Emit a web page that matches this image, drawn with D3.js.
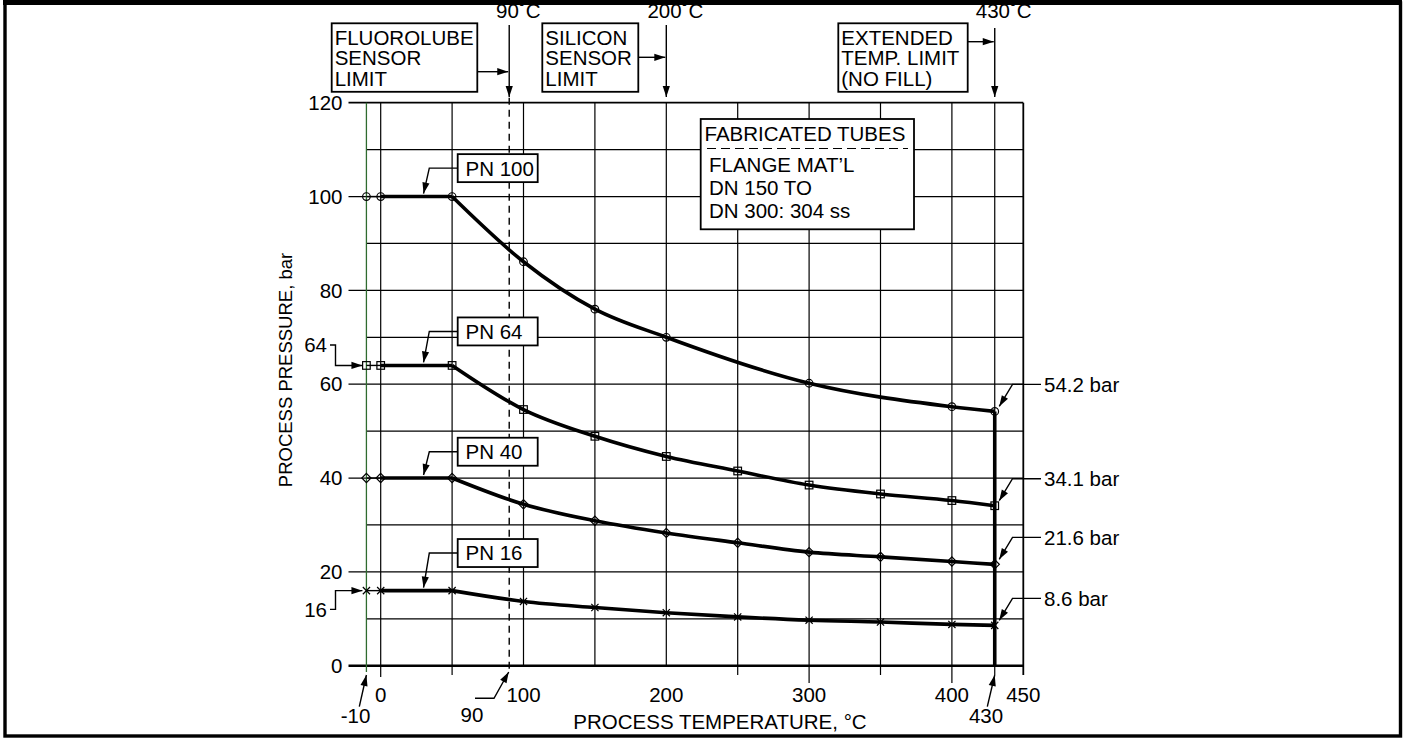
<!DOCTYPE html>
<html><head><meta charset="utf-8">
<script src="https://cdn.jsdelivr.net/npm/d3@7"></script>
<style>
html,body{margin:0;padding:0;background:#fff;}
svg{display:block;}
text{font-family:"Liberation Sans", Arial, Helvetica, sans-serif; fill:#000;}
</style></head><body>
<svg id="chart" width="1409" height="738"></svg>
<script>
// ---------- data ----------
const temps = [-10, 0, 50, 100, 150, 200, 250, 300, 350, 400, 430];
const pn100Temps = [-10, 0, 50, 100, 150, 200, 300, 400, 430];
const pn100Values = [100, 100, 100, 86.1, 76.0, 70.0, 60.2, 55.2, 54.2];
const pn64Values = [64, 64, 64, 54.6, 48.9, 44.6, 41.5, 38.5, 36.6, 35.2, 34.1];
const pn40Values = [40, 40, 40, 34.4, 30.9, 28.3, 26.2, 24.2, 23.2, 22.2, 21.6];
const pn16Values = [16, 16, 16, 13.7, 12.4, 11.3, 10.4, 9.7, 9.3, 8.8, 8.6];
const seriesNames = ["PN 100", "PN 64", "PN 40", "PN 16"];
const markerTypes = ["circle", "square", "diamond", "cross"];
const xTickLabels = [0, 100, 200, 300, 400, 450];
const yTickLabels = [0, 20, 40, 60, 80, 100, 120];
const xGrid = [0, 50, 100, 150, 200, 250, 300, 350, 400, 430, 450];
const yGrid = [0, 10, 20, 30, 40, 50, 60, 70, 80, 90, 100, 110, 120];
const endLabels = ["54.2 bar", "34.1 bar", "21.6 bar", "8.6 bar"];
const endValues = [54.2, 34.1, 21.6, 8.6];
const limitTemps = [90, 200, 430];
const limitLabels = ["90˚C", "200˚C", "430˚C"];
const limitBoxLines = [["FLUOROLUBE", "SENSOR", "LIMIT"], ["SILICON", "SENSOR", "LIMIT"], ["EXTENDED", "TEMP. LIMIT", "(NO FILL)"]];
const noteLines = ["FABRICATED TUBES", "FLANGE MAT’L", "DN 150 TO", "DN 300: 304 ss"];
const sideLabels = ["64", "16"];
const sideValues = [64, 16];
const bottomCallouts = ["-10", "90", "430"];
const bottomCalloutTemps = [-10, 90, 430];
const xTitle = "PROCESS TEMPERATURE, °C";
const yTitle = "PROCESS PRESSURE, bar";

// ---------- setup ----------
const svg = d3.select("#chart");
const x = d3.scaleLinear().domain([0, 450]).range([380.7, 1023.3]);
const y = d3.scaleLinear().domain([0, 120]).range([665.7, 102.7]);
const FS = 20.5;

// outer frame
svg.append("rect").attr("x", 5).attr("y", 3).attr("width", 1395.5).attr("height", 733)
  .attr("fill", "none").attr("stroke", "#000").attr("stroke-width", 3.4);
svg.append("line").attr("x1", 3).attr("x2", 1402).attr("y1", 2.5).attr("y2", 2.5)
  .attr("stroke", "#000").attr("stroke-width", 5);

function arrowHead(g, x1, y1, x2, y2, len = 11, hw = 3.6) {
  const a = Math.atan2(y2 - y1, x2 - x1);
  const bx = x2 - len * Math.cos(a), by = y2 - len * Math.sin(a);
  const px = -Math.sin(a) * hw, py = Math.cos(a) * hw;
  g.append("path").attr("d", `M${x2},${y2}L${bx + px},${by + py}L${bx - px},${by - py}Z`).attr("fill", "#000");
}
function polyArrow(g, pts, sw = 1.4) {
  g.append("path").attr("d", d3.line()(pts)).attr("fill", "none").attr("stroke", "#000").attr("stroke-width", sw);
  const n = pts.length;
  arrowHead(g, pts[n - 2][0], pts[n - 2][1], pts[n - 1][0], pts[n - 1][1]);
}

// ---------- grid ----------
const grid = svg.append("g");
const majorSet = new Set(yTickLabels);
yGrid.forEach(v => {
  const major = majorSet.has(v);
  grid.append("line")
    .attr("x1", major ? 348.5 : x(-10)).attr("x2", x(450))
    .attr("y1", y(v)).attr("y2", y(v))
    .attr("stroke", "#000")
    .attr("stroke-width", v === 0 ? 2.4 : (v === 120 ? 1.8 : 1.2));
});
const tickEnd = {0: 677, 50: 675, 250: 675, 300: 683, 350: 675, 400: 683, 430: 675, 450: 675};
xGrid.forEach(t => {
  grid.append("line")
    .attr("x1", x(t)).attr("x2", x(t))
    .attr("y1", y(120)).attr("y2", tickEnd[t] || y(0))
    .attr("stroke", "#000").attr("stroke-width", t === 450 ? 1.8 : 1.2);
});
// -10 line (green)
grid.append("line").attr("x1", x(-10)).attr("x2", x(-10)).attr("y1", y(120)).attr("y2", 672)
  .attr("stroke", "#2f6b2f").attr("stroke-width", 1.3);
// 90 dashed line
grid.append("line").attr("x1", x(90)).attr("x2", x(90)).attr("y1", y(120) - 5).attr("y2", 672)
  .attr("stroke", "#000").attr("stroke-width", 1.4).attr("stroke-dasharray", "7,5");

// ---------- axis labels ----------
const axes = svg.append("g").attr("font-size", FS);
yTickLabels.forEach(v => {
  axes.append("text").attr("x", 342.5).attr("y", y(v)).attr("dy", "0.35em")
    .attr("text-anchor", "end").text(v);
});
xTickLabels.forEach(t => {
  axes.append("text").attr("x", x(t)).attr("y", 702).attr("text-anchor", "middle").text(t);
});
axes.append("text").attr("x", 720).attr("y", 728.5).attr("text-anchor", "middle").text(xTitle);
axes.append("text").attr("transform", "translate(292,370) rotate(-90)")
  .attr("text-anchor", "middle").attr("font-size", 18.5).text(yTitle);

// ---------- series ----------
const series = [
  {name: seriesNames[0], t: pn100Temps, v: pn100Values, m: markerTypes[0]},
  {name: seriesNames[1], t: temps, v: pn64Values, m: markerTypes[1]},
  {name: seriesNames[2], t: temps, v: pn40Values, m: markerTypes[2]},
  {name: seriesNames[3], t: temps, v: pn16Values, m: markerTypes[3]}
];
const curves = svg.append("g");
const curveGen = d3.line().x(d => x(d[0])).y(d => y(d[1])).curve(d3.curveMonotoneX);
series.forEach(s => {
  const pts = s.t.map((t, i) => [t, s.v[i]]);
  // thin segment -10..0
  curves.append("line").attr("x1", x(pts[0][0])).attr("x2", x(pts[1][0]))
    .attr("y1", y(pts[0][1])).attr("y2", y(pts[1][1])).attr("stroke", "#000").attr("stroke-width", 1.4);
  // flat thick 0..50
  curves.append("line").attr("x1", x(pts[1][0])).attr("x2", x(pts[2][0]))
    .attr("y1", y(pts[1][1])).attr("y2", y(pts[2][1])).attr("stroke", "#000").attr("stroke-width", 3.6);
  // curved part 50..430
  curves.append("path").attr("d", curveGen(pts.slice(2))).attr("fill", "none")
    .attr("stroke", "#000").attr("stroke-width", 3.6);
});
// vertical extended limit line
curves.append("line").attr("x1", x(430)).attr("x2", x(430))
  .attr("y1", y(pn100Values[pn100Values.length - 1])).attr("y2", y(0))
  .attr("stroke", "#000").attr("stroke-width", 3.6);

// markers
const mk = svg.append("g").attr("fill", "none").attr("stroke", "#000").attr("stroke-width", 1.2);
series.forEach(s => {
  s.t.forEach((t, i) => {
    const cx = x(t), cy = y(s.v[i]);
    if (s.m === "circle") mk.append("circle").attr("cx", cx).attr("cy", cy).attr("r", 3.8);
    else if (s.m === "square") mk.append("rect").attr("x", cx - 3.8).attr("y", cy - 3.8).attr("width", 7.6).attr("height", 7.6);
    else if (s.m === "diamond") mk.append("path").attr("d", `M${cx},${cy - 4.6}L${cx + 4.6},${cy}L${cx},${cy + 4.6}L${cx - 4.6},${cy}Z`);
    else mk.append("path").attr("d", `M${cx - 3.6},${cy - 3.6}L${cx + 3.6},${cy + 3.6}M${cx - 3.6},${cy + 3.6}L${cx + 3.6},${cy - 3.6}`);
  });
});

// ---------- annotations ----------
const ann = svg.append("g").attr("font-size", FS);

// PN labels
const pnBoxOffset = [-28.4, -34, -26.3, -37.6];
series.forEach((s, i) => {
  const ly = y(s.v[0]);
  const cy = ly + pnBoxOffset[i];
  ann.append("rect").attr("x", 457.7).attr("y", cy - 14).attr("width", 80).attr("height", 28)
    .attr("fill", "#fff").attr("stroke", "#000").attr("stroke-width", 1.8);
  ann.append("text").attr("x", 465.5).attr("y", cy).attr("dy", "0.36em").text(s.name);
  polyArrow(ann, [[457.7, cy], [429.3, cy], [x(30), ly - 3]]);
});

// left side 64 / 16 callouts
sideValues.forEach((v, i) => {
  const ly = y(v);
  const ty = i === 0 ? ly - 20.4 : ly + 18.7;
  ann.append("text").attr("x", 327).attr("y", ty).attr("dy", "0.35em").attr("text-anchor", "end").text(sideLabels[i]);
  polyArrow(ann, [[330, ty], [335.5, ty], [335.5, ly], [x(-10) - 4, ly]]);
});

// right end callouts
endValues.forEach((v, i) => {
  const ly = y(v);
  const ty = ly - 27;
  ann.append("text").attr("x", 1044).attr("y", ty).attr("dy", "0.35em").text(endLabels[i]);
  polyArrow(ann, [[1041, ty], [1012.5, ty], [x(430) + 4.5, ly - 5]]);
});

// bottom callouts
ann.append("text").attr("x", 355.5).attr("y", 723).attr("text-anchor", "middle").text(bottomCallouts[0]);
polyArrow(ann, [[359.3, 706.7], [x(bottomCalloutTemps[0]), 675]]);
ann.append("text").attr("x", 472).attr("y", 722).attr("text-anchor", "middle").text(bottomCallouts[1]);
polyArrow(ann, [[475, 698.3], [494, 698.3], [x(bottomCalloutTemps[1]) - 0.5, 672]]);
ann.append("text").attr("x", 986).attr("y", 723.3).attr("text-anchor", "middle").text(bottomCallouts[2]);
polyArrow(ann, [[987.3, 706.7], [x(bottomCalloutTemps[2]), 675]]);

// top limit arrows
const limitTop = [25, 25, 28];
limitTemps.forEach((t, i) => {
  ann.append("text").attr("x", x(t) + 9).attr("y", 17.5).attr("text-anchor", "middle").text(limitLabels[i]);
  polyArrow(ann, [[x(t), limitTop[i]], [x(t), 97]]);
});
// limit boxes
const boxLeft = [331.7, 542.3, 838.3];
const boxRight = [477.3, 638.3, 967.7];
const boxArrowY = [71.7, 57.3, 41.7];
limitBoxLines.forEach((lines, i) => {
  ann.append("rect").attr("x", boxLeft[i]).attr("y", 23.3).attr("width", boxRight[i] - boxLeft[i]).attr("height", 68.5)
    .attr("fill", "#fff").attr("stroke", "#000").attr("stroke-width", 1.8);
  lines.forEach((l, j) => {
    ann.append("text").attr("x", boxLeft[i] + 3).attr("y", 45 + j * 20.4).text(l);
  });
  polyArrow(ann, [[boxRight[i], boxArrowY[i]], [x(limitTemps[i]) - 1, boxArrowY[i]]]);
});

// note box
ann.append("rect").attr("x", 700.7).attr("y", 119).attr("width", 213.3).attr("height", 110.3)
  .attr("fill", "#fff").attr("stroke", "#000").attr("stroke-width", 1.8);
noteLines.forEach((l, j) => {
  ann.append("text").attr("x", j === 0 ? 704.5 : 709).attr("y", j === 0 ? 141 : 171.7 + (j - 1) * 23.3).text(l);
});
ann.append("line").attr("x1", 707).attr("x2", 908).attr("y1", 148.5).attr("y2", 148.5)
  .attr("stroke", "#000").attr("stroke-width", 1.2).attr("stroke-dasharray", "9,5");
</script>
</body></html>
